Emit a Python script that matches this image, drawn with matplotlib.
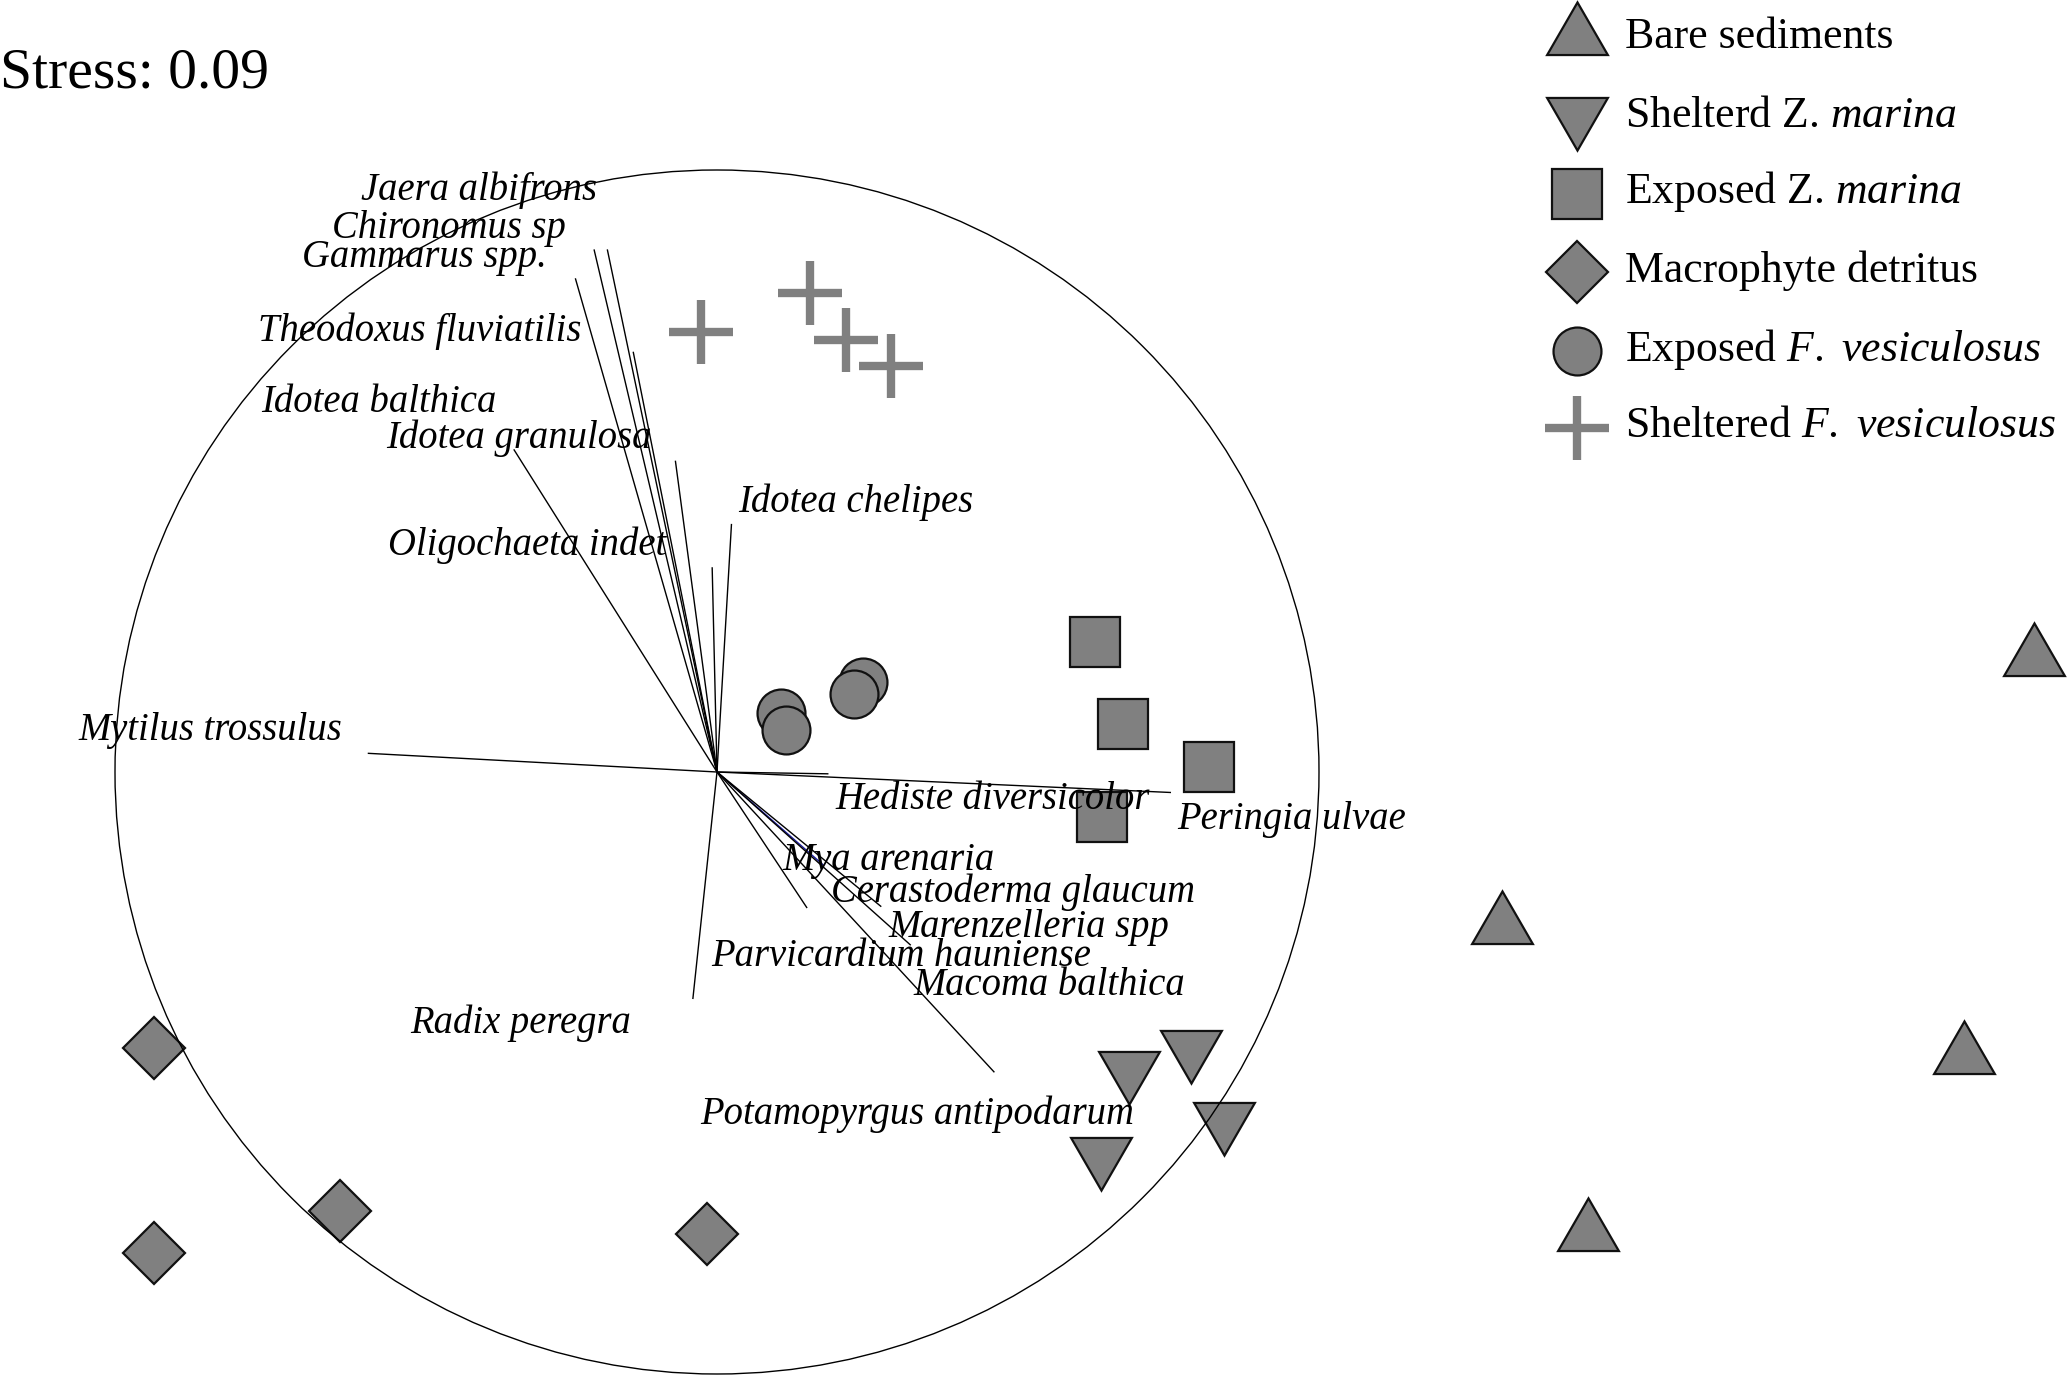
import matplotlib
matplotlib.use("Agg")
import matplotlib.pyplot as plt
from matplotlib.patches import Circle

plt.rcParams['font.family'] = ['Liberation Serif', 'DejaVu Serif']
plt.rcParams['mathtext.fontset'] = 'custom'
plt.rcParams['mathtext.rm'] = 'Liberation Serif'
plt.rcParams['mathtext.it'] = 'Liberation Serif:italic'

# ---------------- data (NMDS-like units; circle radius = 1) ----------------
bare_x = [2.188, 1.304, 2.071, 1.447]
bare_y = [0.189, -0.255, -0.471, -0.765]

shel_zm_x = [0.684, 0.788, 0.842, 0.638]
shel_zm_y = [-0.493, -0.459, -0.578, -0.637]

exp_zm_x = [0.628, 0.674, 0.817, 0.640]
exp_zm_y = [0.216, 0.079, 0.008, -0.075]

detritus_x = [-0.936, -0.936, -0.626, -0.016]
detritus_y = [-0.458, -0.799, -0.730, -0.767]

exp_fv_x = [0.106, 0.115, 0.243, 0.228]
exp_fv_y = [0.098, 0.070, 0.149, 0.130]

shel_fv_x = [-0.027, 0.154, 0.214, 0.289]
shel_fv_y = [0.731, 0.796, 0.718, 0.675]

# species vectors (end points, origin at 0,0)
vec_x = [-0.204, -0.182, -0.235, -0.139, -0.069, 0.024, -0.008, -0.337,
         -0.579, 0.184, 0.753, -0.040, 0.149, 0.176, 0.272, 0.321, 0.460]
vec_y = [0.867, 0.867, 0.819, 0.697, 0.516, 0.411, 0.339, 0.535,
         0.031, -0.003, -0.034, -0.376, -0.225, -0.154, -0.223, -0.287, -0.498]
vec_blue = [False] * 13 + [True] + [False] * 3

# species labels
sp_names = ["Jaera albifrons", "Chironomus sp", "Gammarus spp.", "Theodoxus fluviatilis",
            "Idotea balthica", "Idotea granulosa", "Oligochaeta indet", "Idotea chelipes",
            "Mytilus trossulus", "Hediste diversicolor", "Peringia ulvae", "Mya arenaria",
            "Cerastoderma glaucum", "Marenzelleria spp", "Parvicardium hauniense",
            "Macoma balthica", "Potamopyrgus antipodarum", "Radix peregra"]
sp_lab_x = [-0.591, -0.639, -0.690, -0.762, -0.758, -0.549, -0.547, 0.035,
            -1.060, 0.197, 0.765, 0.109, 0.189, 0.285, -0.010, 0.326, -0.028, -0.509]
sp_lab_y = [0.950, 0.887, 0.839, 0.716, 0.598, 0.538, 0.360, 0.432,
            0.053, -0.061, -0.094, -0.163, -0.216, -0.274, -0.323, -0.370, -0.584, -0.434]

legend_labels = ["Bare sediments", r"Shelterd Z. $\mathit{marina}$", r"Exposed Z. $\mathit{marina}$",
                 "Macrophyte detritus", r"Exposed $\mathit{F.}$ $\mathit{vesiculosus}$",
                 r"Sheltered $\mathit{F.}$ $\mathit{vesiculosus}$"]
stress_text = "Stress: 0.09"

# ---------------- figure ----------------
W, H = 2067, 1375
fig = plt.figure(figsize=(W / 100, H / 100), dpi=100)
ax = fig.add_axes([0, 0, 1, 1])
scale = 602.0
ox, oy = 717.0, 772.0
ax.set_xlim(-ox / scale, (W - ox) / scale)
ax.set_ylim((oy - H) / scale, oy / scale)
ax.axis('off')

gray = '#808080'
edge = '#111111'
tri_ms = 50.5
common = dict(linestyle='none', markerfacecolor=gray, markeredgecolor=edge, markeredgewidth=1.6)
styles = [
    dict(marker=(3, 0, 0), markersize=tri_ms, **common),
    dict(marker=(3, 0, 180), markersize=tri_ms, **common),
    dict(marker='s', markersize=35.3, **common),
    dict(marker='D', markersize=31.5, **common),
    dict(marker='o', markersize=34.5, **common),
    dict(marker='+', markersize=45.4, markeredgewidth=6.0, color=gray, linestyle='none'),
]
groups = [(bare_x, bare_y), (shel_zm_x, shel_zm_y), (exp_zm_x, exp_zm_y),
          (detritus_x, detritus_y), (exp_fv_x, exp_fv_y), (shel_fv_x, shel_fv_y)]

for (gx, gy), st in zip(groups, styles):
    ax.plot(gx, gy, zorder=2, **st)

# circle
ax.add_patch(Circle((0, 0), 1.0, fill=False, edgecolor='black', linewidth=1.0, zorder=3))

# vectors
for vx, vy, b in zip(vec_x, vec_y, vec_blue):
    ax.plot([0, vx], [0, vy], color='#1a1aa0' if b else 'black', linewidth=1.0, zorder=3)

# species labels
for name, lx, ly in zip(sp_names, sp_lab_x, sp_lab_y):
    ax.text(lx, ly, name, fontsize=27.8, fontstyle='italic', ha='left', va='baseline', zorder=4)

# stress
fig.text(0 / W, 1 - 88 / H, stress_text, fontsize=41.5, ha='left', va='baseline')

# legend (figure pixel positions)
leg_marker_x = 1576.7
leg_marker_y = [37.2, 115.3, 194, 272, 350.5, 428]
leg_text_x = 1625
leg_text_y = [48.3, 126.7, 203.3, 281.7, 360.7, 436.7]
for lab, st, my, ty in zip(legend_labels, styles, leg_marker_y, leg_text_y):
    fig.lines.append(plt.Line2D([leg_marker_x / W], [1 - my / H], transform=fig.transFigure, **st))
    fig.text(leg_text_x / W, 1 - ty / H, lab, fontsize=31.5, ha='left', va='baseline')

fig.savefig('out.png', dpi=100, facecolor='white')
